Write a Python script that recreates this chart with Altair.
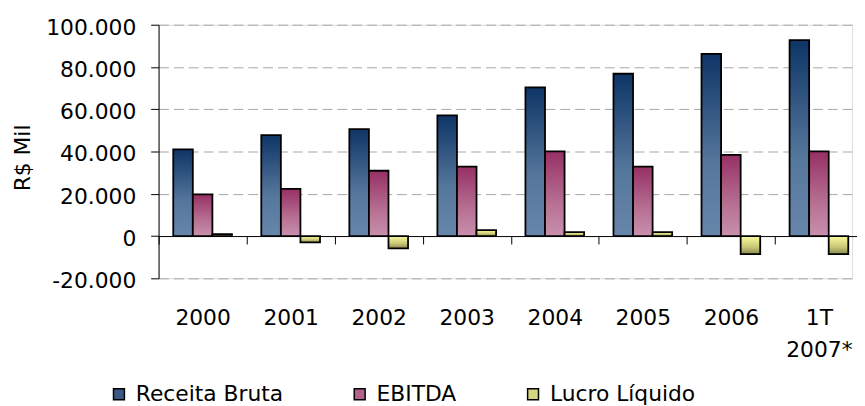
import altair as alt
import pandas as pd

# ---- data ----
categories = ["2000", "2001", "2002", "2003", "2004", "2005", "2006", "1T 2007*"]
series = ["Receita Bruta", "EBITDA", "Lucro Líquido"]
receita = [41000, 47800, 50600, 57100, 70300, 76800, 86200, 92700]
ebitda = [19700, 22300, 30900, 32900, 40100, 32900, 38400, 40100]
lucro = [900, -3000, -5800, 2800, 1900, 1900, -8600, -8600]
y_ticks = [-20000, 0, 20000, 40000, 60000, 80000, 100000]

rows = []
for i, c in enumerate(categories):
    for s, vals in zip(series, [receita, ebitda, lucro]):
        rows.append({"cat": c, "series": s, "value": vals[i]})
df = pd.DataFrame(rows)

FONT = "DejaVu Sans"


def grad(c0, c1, c2):
    return {
        "gradient": "linear", "x1": 0, "y1": 0, "x2": 0, "y2": 1,
        "stops": [
            {"offset": 0, "color": c0},
            {"offset": 0.6, "color": c1},
            {"offset": 1, "color": c2},
        ],
    }


grad_receita = grad("#0e3566", "#56779c", "#6686aa")
grad_ebitda = grad("#963064", "#b66f92", "#c990ad")
grad_lucro = grad("#fbfb9c", "#c8c878", "#898950")
legend_colors = ["#3a5a84", "#b2628a", "#d6d67e"]

fill = alt.Fill(
    "series:N",
    sort=series,
    scale=alt.Scale(domain=series, range=legend_colors),
    legend=alt.Legend(
        title=None, orient="none", legendX=-51, legendY=362,
        direction="horizontal", symbolType="square", symbolSize=121,
        symbolStrokeColor="black", symbolStrokeWidth=1.5,
        labelFont=FONT, labelFontSize=22, labelColor="black",
        labelOffset=6, columnPadding=66, padding=0,
    ),
    condition=[
        {"test": "datum.series === 'Receita Bruta'", "value": grad_receita},
        {"test": "datum.series === 'EBITDA'", "value": grad_ebitda},
        {"test": "datum.series === 'Lucro Líquido'", "value": grad_lucro},
    ],
)

H = 256
zero_offset = -H * 20000 / 120000

chart = alt.Chart(df).mark_bar(stroke="black", strokeWidth=1.8).encode(
    x=alt.X(
        "cat:N", sort=categories,
        scale=alt.Scale(range=[0, 711], paddingInner=0, paddingOuter=0),
        axis=alt.Axis(
            title=None, orient="bottom", offset=zero_offset,
            domainColor="black", domainWidth=1,
            tickColor="black", tickSize=8, tickWidth=1, tickBand="extent",
            labelFont=FONT, labelFontSize=22, labelColor="black",
            labelPadding=64, labelAngle=0, labelBaseline="top",
            labelLineHeight=33,
            labelExpr="datum.label == '1T 2007*' ? ['1T', '2007*'] : datum.label",
            grid=False,
        ),
    ),
    xOffset=alt.XOffset(
        "series:N", sort=series,
        scale=alt.Scale(paddingInner=0, paddingOuter=0.75),
    ),
    y=alt.Y(
        "value:Q",
        scale=alt.Scale(domain=[-20000, 100000], nice=False, zero=False),
        axis=alt.Axis(
            title="R$ Mil", values=y_ticks,
            labelExpr="datum.value == 0 ? '0' : (datum.value < 0 ? '-' : '') + format(abs(datum.value) / 1000, '.3f')",
            grid=True,
            gridColor={"condition": {"test": "datum.value === 0", "value": "transparent"}, "value": "#a6a6a6"},
            gridDash=[10, 5], gridWidth=1,
            domainColor="black", domainWidth=1,
            tickColor="black", tickSize=8, tickWidth=1,
            labelFont=FONT, labelFontSize=22, labelColor="black",
            labelPadding=15, labelOffset=2.5,
            titleFont=FONT, titleFontSize=22, titleFontWeight="normal",
            titleColor="black", titleX=-137, titleY=134, titleAngle=270,
            titleBaseline="middle", titleAlign="center",
        ),
    ),
    fill=fill,
).properties(
    width=700,
    height=H,
    autosize=alt.AutoSizeParams(type="none"),
    padding={"left": 152, "top": 15, "right": 5, "bottom": 126},
).configure_view(
    stroke=None
).configure(
    font=FONT, background="white"
)

chart.save("out.html", embed_options={"renderer": "svg", "actions": False})
